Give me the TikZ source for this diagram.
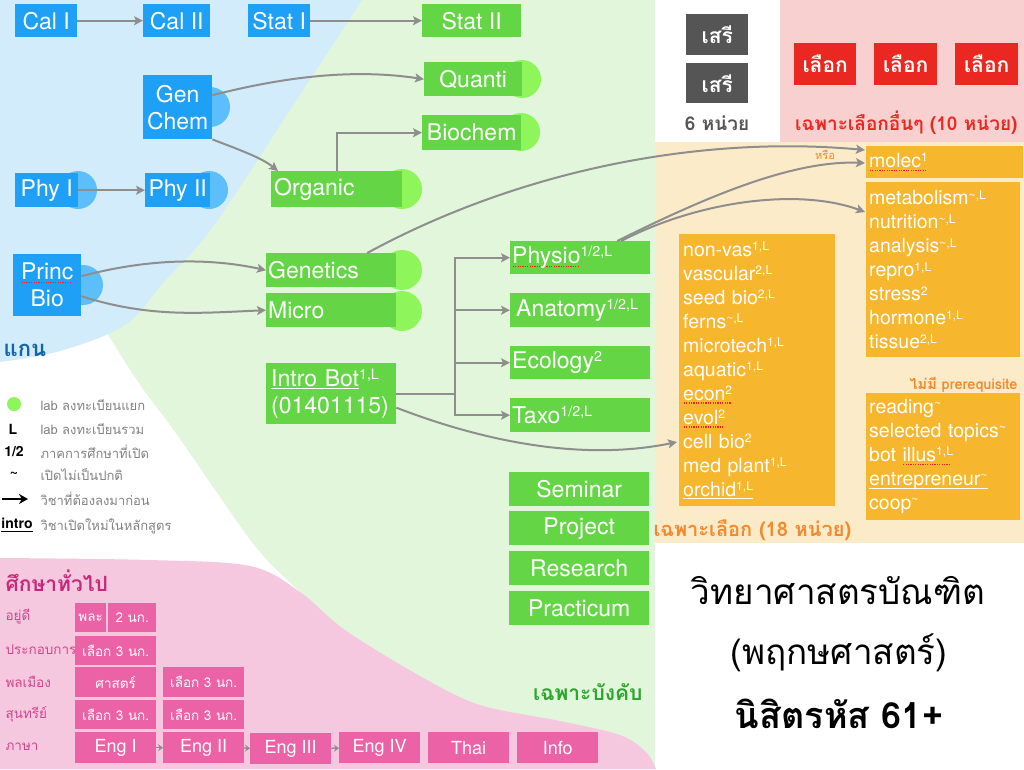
\documentclass[tikz,border=0pt]{standalone}
\usepackage{fontspec}
\setmainfont{TeX Gyre Heros}
\newfontfamily\thai[Script=Thai]{Loma}
\usetikzlibrary{arrows.meta}
\definecolor{cblue}{RGB}{29,160,245}
\definecolor{clblue}{RGB}{92,190,250}
\definecolor{bgblue}{RGB}{211,236,252}
\definecolor{cgreen}{RGB}{100,214,70}
\definecolor{clgreen}{RGB}{142,245,90}
\definecolor{bggreen}{RGB}{226,246,220}
\definecolor{bgpink}{RGB}{246,200,224}
\definecolor{cpink}{RGB}{235,98,166}
\definecolor{tpink}{RGB}{208,70,140}
\definecolor{tmag}{RGB}{199,40,122}
\definecolor{bgorange}{RGB}{252,235,201}
\definecolor{corange}{RGB}{246,182,46}
\definecolor{torange}{RGB}{244,136,42}
\definecolor{bgred}{RGB}{248,208,208}
\definecolor{cred}{RGB}{234,39,32}
\definecolor{cgrey}{RGB}{85,85,85}
\definecolor{carrow}{RGB}{142,142,142}
\definecolor{tgreen}{RGB}{46,165,44}
\definecolor{tblue}{RGB}{21,101,168}
\definecolor{tlegend}{RGB}{130,130,130}
\definecolor{dotred}{RGB}{230,40,40}
\newcommand\sps[1]{\raisebox{0.3em}{\scalebox{0.62}{#1}}}
\newcommand\redul[1]{\leavevmode\setbox0\hbox{#1}\rlap{\raisebox{-3.5pt}{\color{dotred}\hbox to \wd0{\leaders\hbox to 2.4pt{\hss\vrule width 1.2pt height 1.2pt\hss}\hfill}}}\box0}
\newcommand\ulc[2]{\leavevmode\setbox0\hbox{#2}\rlap{\raisebox{-3pt}{\color{#1}\vrule width \wd0 height 1pt depth 0pt}}\box0}
\begin{document}
\begin{tikzpicture}[x=1pt,y=-1pt,
  box/.style={rectangle, inner sep=0pt, anchor=north west, text=white},
  bxs/.style n args={2}{minimum width=#1pt, minimum height=#2pt},
  fb/.style={font=\fontsize{23}{27}\selectfont},
  fp/.style={font=\thai\fontsize{13.5}{16}\selectfont},
  fo/.style={font=\fontsize{19.5}{24}\selectfont},
  arr/.style={draw=carrow, line width=2pt, -{Stealth[length=9pt,width=9pt,inset=2pt]}},
  ln/.style={draw=carrow, line width=2pt},
  sarr/.style={draw=carrow, line width=1.5pt, -{Stealth[length=5pt,width=7pt]}},
  leg/.style={anchor=west, text=tlegend, font=\thai\fontsize{13}{15}\selectfont},
  lsym/.style={font=\bfseries\fontsize{14}{16}\selectfont}
]
\useasboundingbox (0,0) rectangle (1024,769);
% backgrounds
\fill[bggreen] (0,0) rectangle (655,769);
\fill[white] (655,0) rectangle (1024,769);
\fill[bgorange] (655,142) rectangle (1024,543);
\fill[bgred] (780,0) rectangle (1024,142);
\fill[white] plot[smooth,tension=0.6] coordinates {(105,330) (140,385) (175,432) (215,490) (258,550) (300,592) (345,632)} -- (0,640) -- (0,330) -- cycle;
\fill[bgblue] (0,0) -- plot[smooth,tension=0.6] coordinates {(362,0) (290,110) (212,228) (163,283) (125,325) (60,351) (0,362)} -- cycle;
\fill[bgpink] (0,769) -- plot[smooth,tension=0.55] coordinates {(0,558) (150,560) (250,566) (300,592) (345,630) (420,676) (480,705) (560,721) (620,735) (646,752) (656,769)} -- cycle;

% lab circles
\fill[clblue] (210,107) circle[radius=20pt];
\fill[clblue] (78,190) circle[radius=19pt];
\fill[clblue] (209,190) circle[radius=19pt];
\fill[clblue] (83,285) circle[radius=20pt];
\fill[clgreen] (522,79) circle[radius=19pt];
\fill[clgreen] (521,132) circle[radius=19pt];
\fill[clgreen] (402,189) circle[radius=20pt];
\fill[clgreen] (402,270) circle[radius=20pt];
\fill[clgreen] (402,311) circle[radius=20pt];

% blue core boxes
\node[box,fill=cblue,bxs={62}{33},fb] (calI) at (15,4) {Cal I};
\node[box,fill=cblue,bxs={67}{33},fb] (calII) at (143,4) {Cal II};
\node[box,fill=cblue,bxs={62}{33},fb] (statI) at (248,4) {Stat I};
\node[box,fill=cblue,bxs={69}{64},fb,align=center] (genchem) at (143,75) {Gen\\Chem};
\node[box,fill=cblue,bxs={63}{34},fb] (phyI) at (15,173) {Phy I};
\node[box,fill=cblue,bxs={65}{34},fb] (phyII) at (145,173) {Phy II};
\node[box,fill=cblue,bxs={68}{62},fb,align=center] (princ) at (13,254) {\redul{Princ}\\Bio};

% green required boxes
\node[box,fill=cgreen,bxs={99}{33},fb] (statII) at (422,4) {Stat II};
\node[box,fill=cgreen,bxs={98}{34},fb] (quanti) at (424,62) {Quanti};
\node[box,fill=cgreen,bxs={99}{35},fb] (biochem) at (422,115) {Biochem};
\node[box,fill=cgreen,minimum height=36pt,text width=125pt,inner xsep=3pt,align=left,fb] (organic) at (271,171) {Organic};
\node[box,fill=cgreen,minimum height=34pt,text width=126pt,inner xsep=2pt,align=left,fb] (genetics) at (266,253) {Genetics};
\node[box,fill=cgreen,minimum height=34pt,text width=126pt,inner xsep=2pt,align=left,fb] (micro) at (266,293) {Micro};
\node[box,fill=cgreen,minimum height=61pt,text width=120pt,inner xsep=5pt,align=left,font=\fontsize{23}{27}\selectfont] (introbot) at (266,363) {\ulc{white}{Intro Bot}\sps{1,L}\\(01401115)};
\node[box,fill=cgreen,minimum height=33pt,text width=136pt,inner xsep=2pt,align=left,fb] (physio) at (510,241) {\redul{Physio}\sps{1/2,L}};
\node[box,fill=cgreen,minimum height=34pt,text width=128pt,inner xsep=6pt,align=left,fb] (anatomy) at (510,293) {Anatomy\sps{1/2,L}};
\node[box,fill=cgreen,minimum height=33pt,text width=136pt,inner xsep=2pt,align=left,fb] (ecology) at (510,346) {Ecology\sps{2}};
\node[box,fill=cgreen,minimum height=34pt,text width=136pt,inner xsep=2pt,align=left,fb] (taxo) at (510,398) {Taxo\sps{1/2,L}};
\node[box,fill=cgreen,bxs={140}{34},fb] (seminar) at (509,472) {Seminar};
\node[box,fill=cgreen,bxs={140}{34},fb] (project) at (509,511) {Project};
\node[box,fill=cgreen,bxs={140}{34},fb] (research) at (509,551) {Research};
\node[box,fill=cgreen,bxs={140}{34},fb] (practicum) at (509,591) {Practicum};

% free elective, other elective
\node[box,fill=cgrey,bxs={62}{41},font=\thai\bfseries\fontsize{21}{24}\selectfont] (free1) at (686,14) {เสรี};
\node[box,fill=cgrey,bxs={62}{40},font=\thai\bfseries\fontsize{21}{24}\selectfont] (free2) at (686,63) {เสรี};
\node[text=cgrey,font=\thai\bfseries\fontsize{19}{22}\selectfont] (freelab) at (717,123) {6 หน่วย};
\node[box,fill=cred,bxs={62}{42},font=\thai\bfseries\fontsize{21}{24}\selectfont] (sel1) at (794,43) {เลือก};
\node[box,fill=cred,bxs={63}{42},font=\thai\bfseries\fontsize{21}{24}\selectfont] (sel2) at (874,43) {เลือก};
\node[box,fill=cred,bxs={63}{42},font=\thai\bfseries\fontsize{21}{24}\selectfont] (sel3) at (955,43) {เลือก};
\node[anchor=east,text=cred,font=\thai\bfseries\fontsize{19}{22}\selectfont] (sellab) at (1021,123) {เฉพาะเลือกอื่นๆ (10 หน่วย)};

% orange elective boxes
\node[box,fill=corange,minimum height=32pt,text width=151pt,inner xsep=3pt,align=left,fo] (molec) at (866,146) {\redul{molec\sps{1}}};
\node[box,fill=corange,minimum height=175pt,text width=148pt,inner xsep=3pt,align=left,fo] (metabox) at (866,182) {metabolism\sps{\textasciitilde,L}\\nutrition\sps{\textasciitilde,L}\\analysis\sps{\textasciitilde,L}\\repro\sps{1,L}\\stress\sps{2}\\hormone\sps{1,L}\\tissue\sps{2,L}};
\node[anchor=east,text=torange,font=\thai\bfseries\fontsize{14.5}{16}\selectfont] (noprq) at (1021,385) {ไม่มี prerequisite};
\node[box,fill=corange,minimum height=127pt,text width=148pt,inner xsep=3pt,align=left,fo] (readbox) at (866,393) {reading\sps{\textasciitilde}\\selected topics\sps{\textasciitilde}\\bot \redul{illus\sps{1,L}}\\\ulc{white}{entrepreneur\sps{\textasciitilde}}\\coop\sps{\textasciitilde}};
\node[box,fill=corange,minimum height=272pt,text width=148pt,inner xsep=4pt,align=left,fo] (optbox) at (679,234) {non-vas\sps{1,L}\\vascular\sps{2,L}\\seed bio\sps{2,L}\\ferns\sps{\textasciitilde,L}\\microtech\sps{1,L}\\aquatic\sps{1,L}\\\redul{econ\sps{2}}\\\redul{evol\sps{2}}\\cell bio\sps{2}\\med plant\sps{1,L}\\\ulc{white}{orchid\sps{1,L}}};
\node[anchor=west,text=torange,font=\thai\bfseries\fontsize{20}{24}\selectfont] (optlab) at (650,530) {เฉพาะเลือก (18 หน่วย)};
\node[text=torange,font=\thai\fontsize{11}{12}\selectfont] (orlab) at (825,155) {หรือ};

% connector end points
\coordinate (m1) at (865,150);
\coordinate (m2) at (865,163);
\coordinate (mt) at (865,212);
\coordinate (cb) at (677,442);

% connectors
\draw[arr] (calI) -- (calII);
\draw[arr] (statI) -- (statII);
\draw[arr] (phyI) -- (phyII);
\draw[arr] ([yshift=12pt]genchem.east) .. controls (280,78) and (350,68) .. (quanti.west);
\draw[arr] (genchem.south east) .. controls (240,150) and (262,158) .. ([xshift=7pt]organic.north west);
\draw[arr] (organic.north) |- (biochem.west);
\draw[arr] ([yshift=9pt]princ.east) .. controls (150,258) and (210,258) .. (genetics.west);
\draw[arr] ([yshift=-11pt]princ.east) .. controls (150,318) and (200,313) .. (micro.west);
\draw[arr] ([xshift=36pt]genetics.north) .. controls (520,170) and (700,135) .. (m1);
\draw[arr] ([xshift=37pt]physio.north) .. controls (700,200) and (790,160) .. (m2);
\draw[arr] ([xshift=41pt]physio.north) .. controls (700,200) and (800,188) .. (mt);
\draw[arr] ([yshift=-14pt]introbot.east) .. controls (480,440) and (580,462) .. (cb);
\draw[ln] (introbot.east) -- ++(59,0);
\draw[arr] (introbot.east) -- ++(59,0) |- (physio.west);
\draw[arr] (introbot.east) -- ++(59,0) |- (anatomy.west);
\draw[arr] (introbot.east) -- ++(59,0) |- (ecology.west);
\draw[arr] (introbot.east) -- ++(59,0) |- (taxo.west);

% labels of sections
\node[text=tblue,font=\thai\bfseries\fontsize{22}{25}\selectfont] (core) at (25,350) {แกน};
\node[anchor=east,text=tgreen,font=\thai\bfseries\fontsize{21}{24}\selectfont] (reqlab) at (646,692) {เฉพาะบังคับ};

% legend
\fill[clgreen] (14,404) circle[radius=7pt];
\node[leg] (lg1) at (37,405) {lab ลงทะเบียนแยก};
\node[lsym] (sL) at (13,429) {L};
\node[leg] (lg2) at (37,429) {lab ลงทะเบียนรวม};
\node[lsym] (s12) at (14,452) {1/2};
\node[leg] (lg3) at (37,452) {ภาคการศึกษาที่เปิด};
\node[lsym] (stl) at (14,474) {\textasciitilde};
\node[leg] (lg4) at (37,475) {เปิดไม่เป็นปกติ};
\coordinate (la1) at (2,499);
\coordinate (la2) at (28,499);
\draw[black,line width=2pt,-{Stealth[length=9pt,width=10pt]}] (la1) -- (la2);
\node[leg] (lg5) at (37,499) {วิชาที่ต้องลงมาก่อน};
\node[lsym] (sintro) at (17,525) {\ulc{black}{intro}};
\node[leg] (lg6) at (37,526) {วิชาเปิดใหม่ในหลักสูตร};

% general education
\node[anchor=west,text=tmag,font=\thai\bfseries\fontsize{21}{24}\selectfont] (genlab) at (2,581) {ศึกษาทั่วไป};
\node[anchor=west,text=tpink,fp] (r1) at (2,617) {อยู่ดี};
\node[anchor=west,text=tpink,fp] (r2) at (2,650) {ประกอบการ};
\node[anchor=west,text=tpink,fp] (r3) at (2,682) {พลเมือง};
\node[anchor=west,text=tpink,fp] (r4) at (2,714) {สุนทรีย์};
\node[anchor=west,text=tpink,fp] (r5) at (2,747) {ภาษา};
\node[box,fill=cpink,bxs={31}{29},fp] (pala) at (75,603) {พละ};
\node[box,fill=cpink,bxs={48}{29},fp] (two) at (108,603) {2 นก.};
\node[box,fill=cpink,bxs={81}{29},fp] (ent) at (75,636) {เลือก 3 นก.};
\node[box,fill=cpink,bxs={81}{30},fp] (sat) at (75,667) {ศาสตร์};
\node[box,fill=cpink,bxs={81}{30},fp] (cit) at (163,667) {เลือก 3 นก.};
\node[box,fill=cpink,bxs={81}{29},fp] (aes1) at (75,700) {เลือก 3 นก.};
\node[box,fill=cpink,bxs={81}{29},fp] (aes2) at (163,700) {เลือก 3 นก.};
\node[box,fill=cpink,bxs={81}{31},font=\fontsize{18}{20}\selectfont] (engI) at (75,732) {Eng I};
\node[box,fill=cpink,bxs={81}{31},font=\fontsize{18}{20}\selectfont] (engII) at (163,732) {Eng II};
\node[box,fill=cpink,bxs={81}{31},font=\fontsize{18}{20}\selectfont] (engIII) at (250,733) {Eng III};
\node[box,fill=cpink,bxs={81}{31},font=\fontsize{18}{20}\selectfont] (engIV) at (339,732) {Eng IV};
\node[box,fill=cpink,bxs={81}{31},font=\fontsize{18}{20}\selectfont] (thaiC) at (428,732) {Thai};
\node[box,fill=cpink,bxs={81}{31},font=\fontsize{18}{20}\selectfont] (info) at (517,732) {Info};
\draw[sarr] (engI) -- (engII);
\draw[sarr] (engII) -- (engIII);
\draw[sarr] (engIII) -- (engIV);

% title
\node[font=\thai\fontsize{35}{40}\selectfont] (t1) at (838,591) {วิทยาศาสตรบัณฑิต};
\node[font=\thai\fontsize{35}{40}\selectfont] (t2) at (839,653) {(พฤกษศาสตร์)};
\node[font=\thai\bfseries\fontsize{36}{40}\selectfont] (t3) at (839,714) {นิสิตรหัส 61+};
\end{tikzpicture}
\end{document}
